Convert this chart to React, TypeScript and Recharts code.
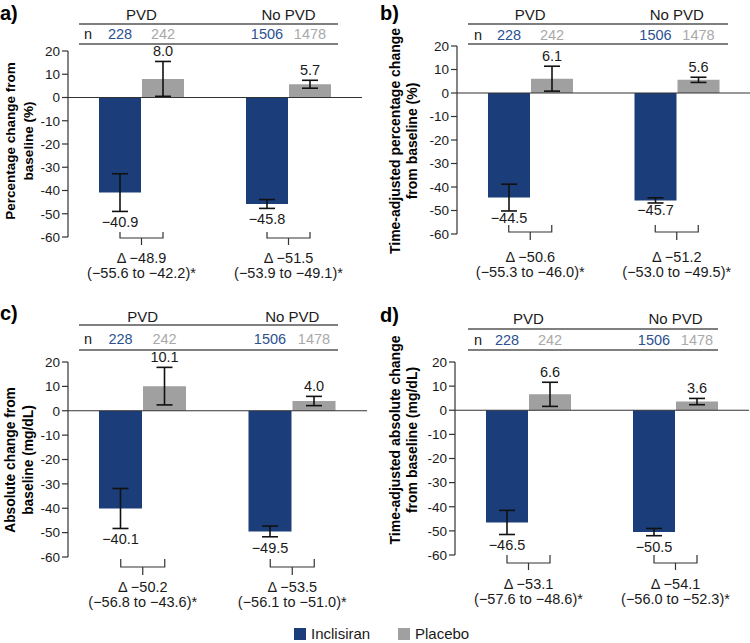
import React from "react";
import { BarChart, Bar, XAxis, YAxis, ReferenceLine, ErrorBar, LabelList } from "recharts";

const FONT = "'Liberation Sans', Arial, Helvetica, sans-serif";
const BLUE = "#1b3e7b";
const GRAY = "#a0a0a0";
const N_BLUE = "#2c5190";
const N_GRAY = "#a9a9a9";

const categories = ["PVD", "No PVD"];
const nInclisiran = [228, 1506];
const nPlacebo = [242, 1478];
const yTicks = [20, 10, 0, -10, -20, -30, -40, -50, -60];

// a) Percentage change from baseline
const aInclisiran = [-40.9, -45.8];
const aInclisiranErr = [8.1, 1.9];
const aPlacebo = [8.0, 5.7];
const aPlaceboErr = [7.5, 1.7];
const aDelta = [-48.9, -51.5];
const aCILow = [-55.6, -53.9];
const aCIHigh = [-42.2, -49.1];

// b) Time-adjusted percentage change
const bInclisiran = [-44.5, -45.7];
const bInclisiranErr = [5.7, 1.1];
const bPlacebo = [6.1, 5.6];
const bPlaceboErr = [5.3, 1.1];
const bDelta = [-50.6, -51.2];
const bCILow = [-55.3, -53.0];
const bCIHigh = [-46.0, -49.5];

// c) Absolute change (mg/dL)
const cInclisiran = [-40.1, -49.5];
const cInclisiranErr = [8.2, 2.2];
const cPlacebo = [10.1, 4.0];
const cPlaceboErr = [7.7, 1.9];
const cDelta = [-50.2, -53.5];
const cCILow = [-56.8, -56.1];
const cCIHigh = [-43.6, -51.0];

// d) Time-adjusted absolute change (mg/dL)
const dInclisiran = [-46.5, -50.5];
const dInclisiranErr = [5.0, 1.5];
const dPlacebo = [6.6, 3.6];
const dPlaceboErr = [5.0, 1.3];
const dDelta = [-53.1, -54.1];
const dCILow = [-57.6, -56.0];
const dCIHigh = [-48.6, -52.3];

const fmt = (v: number) => (v < 0 ? "\u2212" : "") + Math.abs(v).toFixed(1);

type Row = {
  cat: string; inc: number; incErr: number; pla: number; plaErr: number;
  nInc: number; nPla: number; delta: number; lo: number; hi: number;
};

const build = (inc: number[], incErr: number[], pla: number[], plaErr: number[], delta: number[], lo: number[], hi: number[]): Row[] =>
  categories.map((cat, i) => ({
    cat, inc: inc[i], incErr: incErr[i], pla: pla[i], plaErr: plaErr[i],
    nInc: nInclisiran[i], nPla: nPlacebo[i], delta: delta[i], lo: lo[i], hi: hi[i],
  }));

type Geo = {
  letter: string; left: number; top: number; W: number; H: number;
  plotLeft: number; plotRight: number; plotTop: number; plotBottom: number; barSize: number;
  titleY: number; l1: number; nY: number; l2: number; x1: number; x2: number; nX: number;
  yl1: string; yl2: string; ylx1: number; ylx2: number; ylcy: number; ylSize: number;
  legTop: number; hY: number; tickY: number; t1: number; t2: number;
  letterX: number; letterY: number; negOff: number;
};

const getRect = (p: any) => {
  const vb = p.viewBox || {};
  const x = p.x ?? vb.x;
  const y = p.y ?? vb.y;
  const width = p.width ?? vb.width;
  const height = p.height ?? vb.height;
  return { x: Number(x), y: Number(y), width: Number(width), height: Number(height) };
};

const Panel = ({ g, data }: { g: Geo; data: Row[] }) => {
  const gap = 1;
  const half = (g.barSize + gap) / 2;

  const valueLabel = (key: "inc" | "pla", errKey: "incErr" | "plaErr") => (p: any) => {
    const { x, y, width, height } = getRect(p);
    const value = Number(p.value);
    let idx = typeof p.index === "number" ? p.index : data.findIndex((d) => d[key] === value);
    if (idx < 0) idx = 0;
    const err = data[idx][errKey];
    const top = Math.min(y, y + height);
    const bottom = Math.max(y, y + height);
    const ppu = Math.abs(value) > 0 ? Math.abs(height) / Math.abs(value) : 0;
    const ty = value >= 0 ? top - err * ppu - 5 : bottom + err * ppu + g.negOff;
    return (
      <text x={x + width / 2} y={ty} textAnchor="middle" fontSize={14.5} fill="#1a1a1a" fontFamily={FONT}>
        {fmt(value)}
      </text>
    );
  };

  const nLabel = (color: string) => (p: any) => {
    const { x, width } = getRect(p);
    return (
      <text x={x + width / 2} y={g.nY + 5} textAnchor="middle" fontSize={14.5} fill={color} fontFamily={FONT}>
        {p.value}
      </text>
    );
  };

  const renderTick = (p: any) => {
    const x = Number(p.x);
    const name = p.payload?.value;
    const i = categories.indexOf(name);
    const d = data[i >= 0 ? i : 0];
    const b = g.plotBottom;
    return (
      <g>
        <text x={x} y={g.titleY + 5} textAnchor="middle" fontSize={15} fill="#1a1a1a" fontFamily={FONT}>
          {name}
        </text>
        <path
          d={`M${x - half},${b + g.legTop} L${x - half},${b + g.hY} L${x + half},${b + g.hY} L${x + half},${b + g.legTop} M${x},${b + g.hY} L${x},${b + g.tickY}`}
          stroke="#333"
          strokeWidth={1.2}
          fill="none"
        />
        <text x={x} y={b + g.t1 + 5} textAnchor="middle" fontSize={14.5} fill="#1a1a1a" fontFamily={FONT}>
          {"\u0394 " + fmt(d.delta)}
        </text>
        <text x={x} y={b + g.t2 + 5} textAnchor="middle" fontSize={14.5} fill="#1a1a1a" fontFamily={FONT}>
          {"(" + fmt(d.lo) + " to " + fmt(d.hi) + ")*"}
        </text>
      </g>
    );
  };

  return (
    <div style={{ position: "absolute", left: g.left, top: g.top, width: g.W, height: g.H }}>
      <BarChart
        width={g.W}
        height={g.H}
        data={data}
        barSize={g.barSize}
        barGap={gap}
        margin={{ top: g.plotTop, right: g.W - g.plotRight, bottom: g.H - g.plotBottom - 1, left: 0 }}
      >
        <XAxis
          dataKey="cat"
          height={1}
          axisLine={false}
          tickLine={false}
          tickSize={0}
          tickMargin={0}
          interval={0}
          tick={renderTick}
        />
        <YAxis
          domain={[-60, 20]}
          ticks={yTicks}
          interval={0}
          allowDataOverflow
          width={g.plotLeft}
          tickSize={6}
          tickMargin={2}
          axisLine={{ stroke: "#333", strokeWidth: 1.2 }}
          tickLine={{ stroke: "#333", strokeWidth: 1.2 }}
          tick={{ fontSize: 13.5, fill: "#1a1a1a", fontFamily: FONT }}
        />
        <Bar dataKey="inc" fill={BLUE} isAnimationActive={false}>
          <ErrorBar dataKey="incErr" width={8} stroke="#111" strokeWidth={1.6} direction="y" />
          <LabelList dataKey="inc" content={valueLabel("inc", "incErr")} />
          <LabelList dataKey="nInc" content={nLabel(N_BLUE)} />
        </Bar>
        <Bar dataKey="pla" fill={GRAY} isAnimationActive={false}>
          <ErrorBar dataKey="plaErr" width={8} stroke="#111" strokeWidth={1.6} direction="y" />
          <LabelList dataKey="pla" content={valueLabel("pla", "plaErr")} />
          <LabelList dataKey="nPla" content={nLabel(N_GRAY)} />
        </Bar>
        <ReferenceLine y={0} stroke="#333" strokeWidth={1.2} />
      </BarChart>
      <svg
        width={g.W}
        height={g.H}
        style={{ position: "absolute", left: 0, top: 0, pointerEvents: "none" }}
      >
        <text x={g.letterX} y={g.letterY} fontSize={20} fontWeight="bold" fill="#000" fontFamily={FONT}>
          {g.letter}
        </text>
        <line x1={g.x1} x2={g.x2} y1={g.l1} y2={g.l1} stroke="#7f7f7f" strokeWidth={1.8} />
        <line x1={g.x1} x2={g.x2} y1={g.l2} y2={g.l2} stroke="#7f7f7f" strokeWidth={1.8} />
        <text x={g.nX} y={g.nY + 5} textAnchor="middle" fontSize={14.5} fill="#1a1a1a" fontFamily={FONT}>
          n
        </text>
        <text
          transform={`translate(${g.ylx1},${g.ylcy}) rotate(-90)`}
          textAnchor="middle"
          dominantBaseline="central"
          fontSize={g.ylSize}
          fontWeight="bold"
          fill="#000"
          fontFamily={FONT}
        >
          {g.yl1}
        </text>
        <text
          transform={`translate(${g.ylx2},${g.ylcy}) rotate(-90)`}
          textAnchor="middle"
          dominantBaseline="central"
          fontSize={g.ylSize}
          fontWeight="bold"
          fill="#000"
          fontFamily={FONT}
        >
          {g.yl2}
        </text>
      </svg>
    </div>
  );
};

const geoA: Geo = {
  letter: "a)", left: 0, top: 0, W: 375, H: 300,
  plotLeft: 68, plotRight: 362, plotTop: 51, plotBottom: 237, barSize: 42,
  titleY: 15, l1: 24, nY: 34, l2: 44, x1: 79, x2: 338, nX: 88,
  yl1: "Percentage change from", yl2: "baseline (%)", ylx1: 10, ylx2: 28, ylcy: 141, ylSize: 13.5,
  legTop: -5, hY: 1, tickY: 8, t1: 21, t2: 36, letterX: 0, letterY: 20, negOff: 16,
};
const geoB: Geo = {
  letter: "b)", left: 375, top: 0, W: 375, H: 300,
  plotLeft: 82, plotRight: 375, plotTop: 46, plotBottom: 234, barSize: 42,
  titleY: 15, l1: 24, nY: 35, l2: 44, x1: 93, x2: 353, nX: 103,
  yl1: "Time-adjusted percentage change", yl2: "from baseline (%)", ylx1: 20, ylx2: 37, ylcy: 141, ylSize: 14,
  legTop: -9, hY: -2, tickY: 6, t1: 23, t2: 38, letterX: 5, letterY: 20, negOff: 12,
};
const geoC: Geo = {
  letter: "c)", left: 0, top: 300, W: 375, H: 343,
  plotLeft: 68, plotRight: 367, plotTop: 62, plotBottom: 257, barSize: 43,
  titleY: 17, l1: 25, nY: 39, l2: 50, x1: 79, x2: 338, nX: 88,
  yl1: "Absolute change from", yl2: "baseline (mg/dL)", ylx1: 10, ylx2: 28, ylcy: 160, ylSize: 13.8,
  legTop: 2, hY: 10, tickY: 18, t1: 30, t2: 45, letterX: 0, letterY: 20, negOff: 16,
};
const geoD: Geo = {
  letter: "d)", left: 375, top: 300, W: 375, H: 343,
  plotLeft: 80, plotRight: 374, plotTop: 62, plotBottom: 255, barSize: 42,
  titleY: 19, l1: 29, nY: 40, l2: 50, x1: 93, x2: 343, nX: 103,
  yl1: "Time-adjusted absolute change", yl2: "from baseline (mg/dL)", ylx1: 20, ylx2: 37, ylcy: 140, ylSize: 14,
  legTop: 0, hY: 8, tickY: 15, t1: 29, t2: 44, letterX: 5, letterY: 22, negOff: 16,
};

const dataA = build(aInclisiran, aInclisiranErr, aPlacebo, aPlaceboErr, aDelta, aCILow, aCIHigh);
const dataB = build(bInclisiran, bInclisiranErr, bPlacebo, bPlaceboErr, bDelta, bCILow, bCIHigh);
const dataC = build(cInclisiran, cInclisiranErr, cPlacebo, cPlaceboErr, cDelta, cCILow, cCIHigh);
const dataD = build(dInclisiran, dInclisiranErr, dPlacebo, dPlaceboErr, dDelta, dCILow, dCIHigh);

export default function App() {
  return (
    <div style={{ position: "absolute", left: 0, top: 0, width: 750, height: 643, background: "#fff", fontFamily: FONT }}>
      <Panel g={geoA} data={dataA} />
      <Panel g={geoB} data={dataB} />
      <Panel g={geoC} data={dataC} />
      <Panel g={geoD} data={dataD} />
      <div style={{ position: "absolute", left: 294, top: 628, width: 12, height: 12, background: BLUE }} />
      <div style={{ position: "absolute", left: 311, top: 626, fontSize: 15, color: "#1a1a1a", lineHeight: "16px" }}>Inclisiran</div>
      <div style={{ position: "absolute", left: 398, top: 628, width: 12, height: 12, background: GRAY }} />
      <div style={{ position: "absolute", left: 415, top: 626, fontSize: 15, color: "#1a1a1a", lineHeight: "16px" }}>Placebo</div>
    </div>
  );
}
